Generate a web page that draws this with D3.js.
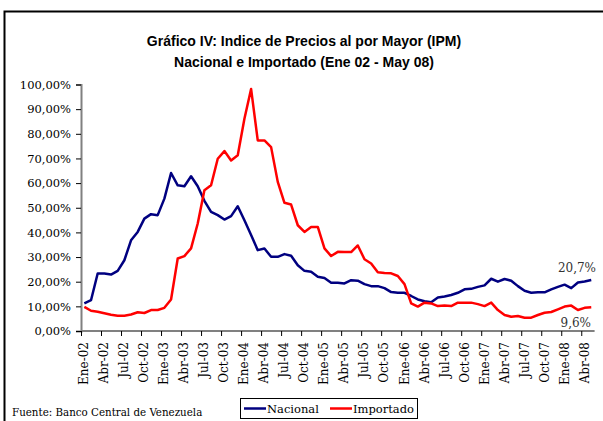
<!DOCTYPE html>
<html>
<head>
<meta charset="utf-8">
<script src="https://cdn.jsdelivr.net/npm/d3@7"></script>
<style>
    body { margin: 0; background: #fff; }
    svg { display: block; }
</style>
</head>
<body>
<svg width="603" height="421"></svg>
<script>
// Monthly categories, Ene-02 .. May-08 (77 months)
const monthNames = ['Ene', 'Feb', 'Mar', 'Abr', 'May', 'Jun', 'Jul', 'Ago', 'Sep', 'Oct', 'Nov', 'Dic'];
const years = ['02', '03', '04', '05', '06', '07', '08'];
const categories = [];
years.forEach((y) => {
    monthNames.forEach((m) => {
        if (categories.length < 77) categories.push(`${m}-${y}`);
    });
});

// Series values (% annual variation)
const nacional = [
    11.2, 12.5, 23.3, 23.3, 22.9, 24.4, 28.7, 36.8, 40.2, 45.6, 47.4, 47.0,
    53.7, 64.1, 59.1, 58.7, 62.8, 58.7, 52.8, 48.3, 47.0, 45.2, 46.6, 50.6,
    44.9, 38.9, 32.8, 33.5, 30.1, 30.1, 31.2, 30.5, 26.7, 24.4, 24.0, 22.0,
    21.5, 19.6, 19.6, 19.3, 20.6, 20.4, 19.0, 18.2, 18.2, 17.4, 15.8, 15.5,
    15.5, 14.2, 12.8, 12.1, 11.7, 13.6, 14.0, 14.6, 15.5, 16.9, 17.1, 17.9,
    18.5, 21.2, 20.0, 21.1, 20.4, 18.2, 16.3, 15.5, 15.7, 15.7, 16.9, 17.9,
    18.8, 17.4, 19.7, 20.1, 20.7
];
const importado = [
    9.8, 8.2, 7.8, 7.2, 6.6, 6.2, 6.2, 6.7, 7.6, 7.3, 8.5, 8.5,
    9.4, 12.8, 29.4, 30.4, 33.5, 43.6, 57.1, 59.1, 69.9, 73.0, 69.2, 71.3,
    86.1, 98.2, 77.3, 77.3, 74.6, 60.5, 52.0, 51.3, 42.9, 40.2, 42.2, 42.2,
    33.5, 30.4, 32.1, 32.0, 32.0, 34.7, 29.1, 27.4, 23.8, 23.5, 23.4, 22.3,
    19.0, 11.2, 9.9, 11.5, 11.2, 10.1, 10.3, 10.1, 11.5, 11.5, 11.5, 10.9,
    10.1, 11.5, 8.5, 6.5, 5.8, 6.1, 5.4, 5.4, 6.5, 7.4, 7.7, 8.8,
    9.9, 10.3, 8.5, 9.4, 9.6
];

const yTicks = [0, 10, 20, 30, 40, 50, 60, 70, 80, 90, 100];
const seriesNames = ['Nacional', 'Importado'];
const seriesColors = ['#000080', '#ff0000'];
const endLabels = ['20,7%', '9,6%'];

const svg = d3.select('svg');
const serif = '"DejaVu Serif", serif';

// outer frame (clipped at right and bottom like the original)
svg.append('rect')
    .attr('x', 4.5).attr('y', 11.5)
    .attr('width', 640).attr('height', 440)
    .attr('fill', 'none')
    .attr('stroke', '#000')
    .attr('stroke-width', 2);

// title
const title = svg.append('text')
    .attr('text-anchor', 'middle')
    .attr('font-family', '"Liberation Sans", Arial, sans-serif')
    .attr('font-weight', 'bold')
    .attr('font-size', 14)
    .attr('fill', '#000');
title.append('tspan').attr('x', 304).attr('y', 46).text('Gráfico IV: Indice de Precios al por Mayor (IPM)');
title.append('tspan').attr('x', 304).attr('y', 67).text('Nacional e Importado (Ene 02 - May 08)');

const n = categories.length;
const x = d3.scaleLinear().domain([0, n]).range([81, 594.6]);
const y = d3.scaleLinear().domain([0, 100]).range([331, 84.5]);

// y axis
const yAxis = svg.append('g')
    .attr('transform', 'translate(81,0)')
    .call(d3.axisLeft(y).tickValues(yTicks).tickSize(5).tickPadding(5)
        .tickFormat(d => `${d.toFixed(2).replace('.', ',')}%`));
yAxis.select('.domain').attr('stroke', '#808080').attr('stroke-width', 2);
yAxis.selectAll('.tick line').attr('stroke', '#000');
yAxis.selectAll('.tick text')
    .attr('font-family', serif).attr('font-size', 11.5).attr('fill', '#000');

// x axis: ticks at category boundaries every 3 months
const tickIdx = d3.range(0, n, 3);
const xAxis = svg.append('g')
    .attr('transform', `translate(0,${y(0)})`)
    .call(d3.axisBottom(x).tickValues(tickIdx).tickSize(5).tickFormat(''));
xAxis.select('.domain').attr('stroke', '#808080').attr('stroke-width', 2)
    .attr('d', `M${x(0)},0H${x(n)}`);
xAxis.selectAll('.tick line').attr('stroke', '#000');

// x labels centred on their category, rotated
svg.append('g').selectAll('text')
    .data(tickIdx)
    .join('text')
    .attr('transform', i => `translate(${x(i + 0.5) + 4},${y(0) + 11})rotate(-90)`)
    .attr('text-anchor', 'end')
    .attr('font-family', serif)
    .attr('font-size', 12)
    .attr('fill', '#000')
    .text(i => categories[i]);

// lines
const line = d3.line()
    .x((d, i) => x(i + 0.5))
    .y(d => y(d));

[nacional, importado].forEach((s, k) => {
    svg.append('path')
        .datum(s)
        .attr('fill', 'none')
        .attr('stroke', seriesColors[k])
        .attr('stroke-width', 2.5)
        .attr('stroke-linejoin', 'round')
        .attr('d', line);
});

// end labels
svg.append('text')
    .attr('x', 596).attr('y', y(nacional[n - 1]) - 8)
    .attr('text-anchor', 'end')
    .attr('font-family', serif).attr('font-size', 12).attr('fill', '#333')
    .text(endLabels[0]);
svg.append('text')
    .attr('x', 591).attr('y', y(importado[n - 1]) + 20)
    .attr('text-anchor', 'end')
    .attr('font-family', serif).attr('font-size', 12).attr('fill', '#333')
    .text(endLabels[1]);

// legend
const legend = svg.append('g');
legend.append('rect')
    .attr('x', 240.5).attr('y', 398.5)
    .attr('width', 177).attr('height', 20)
    .attr('fill', '#fff')
    .attr('stroke', '#000');
const legX = [244, 330];
seriesNames.forEach((name, k) => {
    legend.append('line')
        .attr('x1', legX[k]).attr('x2', legX[k] + 22)
        .attr('y1', 408.5).attr('y2', 408.5)
        .attr('stroke', seriesColors[k]).attr('stroke-width', 2.5);
    legend.append('text')
        .attr('x', legX[k] + 23).attr('y', 413)
        .attr('font-family', serif).attr('font-size', 11.5).attr('fill', '#000')
        .text(name);
});

// source
svg.append('text')
    .attr('x', 12).attr('y', 416)
    .attr('font-family', serif).attr('font-size', 10.3).attr('fill', '#000')
    .text('Fuente: Banco Central de Venezuela');
</script>
</body>
</html>
